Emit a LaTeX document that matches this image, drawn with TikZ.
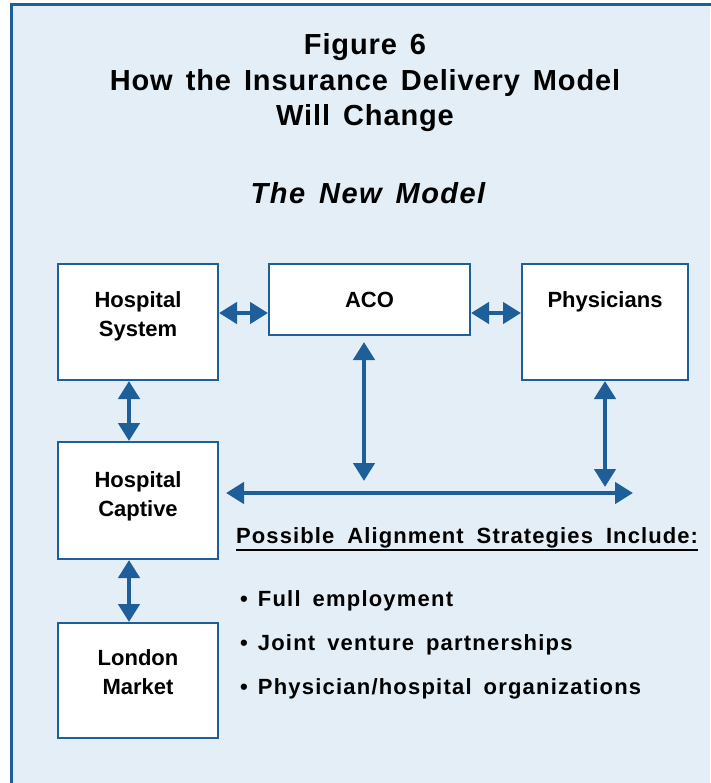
\documentclass[tikz,border=0pt]{standalone}
\usepackage{fontspec}
\setmainfont{Liberation Sans}
\usetikzlibrary{arrows.meta,calc,positioning}
\definecolor{fblue}{HTML}{1E5F99}
\definecolor{bgblue}{HTML}{E4EEF6}
\newcommand\ttlfont{\fontsize{29}{36}\selectfont\bfseries\addfontfeatures{LetterSpace=3}\setlength\spaceskip{13pt}}
\newcommand\newmfont{\fontsize{29}{36}\selectfont\bfseries\itshape\addfontfeatures{LetterSpace=5}\setlength\spaceskip{14pt}}
\newcommand\itemfont{\fontsize{22}{29}\selectfont\bfseries\addfontfeatures{LetterSpace=5.5}\setlength\spaceskip{12pt}}
\newcommand\headfont{\fontsize{22}{29}\selectfont\bfseries\addfontfeatures{LetterSpace=5}\setlength\spaceskip{13pt}}
\tikzset{
	box/.style={draw=fblue, line width=2pt, fill=white},
	lbl/.style={align=center, anchor=base, inner sep=0pt, font=\fontsize{22}{29}\selectfont\bfseries},
	ttl/.style={anchor=base, inner sep=0pt, font=\ttlfont},
	item/.style={anchor=base west, inner sep=0pt, font=\itemfont},
	dbl/.style={fblue, line width=4.5pt, {Triangle[width=21pt,length=18pt]}-{Triangle[width=21pt,length=18pt]}}
}
\begin{document}
\begin{tikzpicture}[x=1pt,y=-1pt]
	\useasboundingbox (0,0) rectangle (710,783);
	\fill[white] (0,0) rectangle (710,783);
	\fill[bgblue] (11,5) rectangle (710,783);
	\draw[fblue, line width=3pt] (11,790) -- (11,5) -- (720,5);

	% Titel
	\node[ttl] (title1) at (365,55) {Figure 6};
	\node[ttl] (title2) at (365,90.5) {How the Insurance Delivery Model};
	\node[ttl] (title3) at (365,126) {Will Change};
	\node[ttl, font=\newmfont] (newm) at (368,204) {The New Model};

	% Kasten
	\node[box, minimum width=160pt, minimum height=116pt] (hsys) at (138,322) {};
	\node[box, minimum width=201pt, minimum height=71pt] (aco) at (369.5,299.5) {};
	\node[box, minimum width=166pt, minimum height=116pt] (phys) at (605,322) {};
	\node[box, minimum width=160pt, minimum height=117pt] (capt) at (138,500.5) {};
	\node[box, minimum width=160pt, minimum height=115pt] (lond) at (138,680.5) {};

	\node[lbl] (hsys-t) at (hsys.center |- 0,336.5) {Hospital\\System};
	\node[lbl] (aco-t) at (aco.center |- 0,307) {ACO};
	\node[lbl] (phys-t) at (phys.center |- 0,307) {Physicians};
	\node[lbl] (capt-t) at (capt.center |- 0,516) {Hospital\\Captive};
	\node[lbl] (lond-t) at (lond.center |- 0,694.5) {London\\Market};

	% Pfeile
	\coordinate (bus-w) at (226,493);
	\coordinate (bus-e) at (633,493);
	\coordinate (aco-e) at (364,481);
	\coordinate (phys-e) at (605,487);

	\draw[dbl] ($(hsys.north east)+(0,50)$) -- ($(aco.north west)+(0,50)$);
	\draw[dbl] ($(aco.north east)+(0,50)$) -- ($(phys.north west)+(0,50)$);
	\draw[dbl] ($(hsys.south)+(-9,0)$) -- ($(capt.north)+(-9,0)$);
	\draw[dbl] ($(capt.south)+(-9,0)$) -- ($(lond.north)+(-9,0)$);
	\draw[dbl] ($(aco.south)+(-5.5,6)$) -- (aco-e);
	\draw[dbl] (phys.south) -- (phys-e);
	\draw[dbl] (bus-w) -- (bus-e);

	% Strategien
	\node[item, font=\headfont] (head) at (236,543) {Possible Alignment Strategies Include:};
	\draw[line width=2pt] ([yshift=-6.5pt]head.base west) -- ([yshift=-6.5pt]head.base east);
	\foreach \t [count=\i] in {Full employment, Joint venture partnerships, Physician/hospital organizations} {
		\node[item] (item\i) at (240,{562+44*\i}) {\textbullet\hspace{10pt}\t};
	}
\end{tikzpicture}
\end{document}
